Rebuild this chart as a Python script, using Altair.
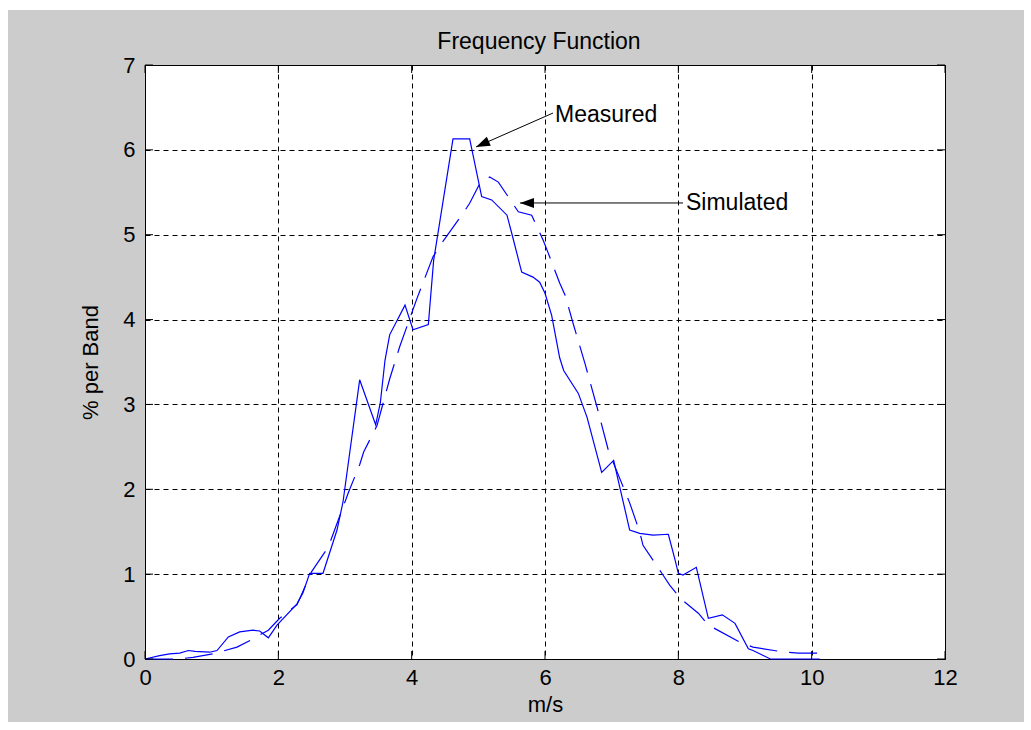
import altair as alt
import pandas as pd

# Measured frequency function (% per band vs wind speed m/s)
meas_x = [0.0, 0.22, 0.37, 0.52, 0.65, 0.75, 0.97, 1.08, 1.25, 1.42, 1.62, 1.72, 1.85,
          1.98, 2.28, 2.37, 2.47, 2.67, 2.88, 2.97, 3.22, 3.46, 3.53, 3.6, 3.67, 3.9,
          4.02, 4.25, 4.33, 4.62, 4.87, 5.05, 5.2, 5.43, 5.5, 5.65, 5.82, 5.92, 6.0,
          6.1, 6.22, 6.28, 6.5, 6.63, 6.85, 7.03, 7.1, 7.27, 7.42, 7.62, 7.85, 7.95,
          8.0, 8.07, 8.27, 8.45, 8.66, 8.85, 9.05, 9.12, 9.38, 10.12]
meas_y = [0.0, 0.04, 0.06, 0.07, 0.1, 0.09, 0.08, 0.1, 0.26, 0.32, 0.34, 0.33, 0.25,
          0.4, 0.65, 0.78, 1.01, 1.01, 1.52, 1.85, 3.29, 2.76, 3.02, 3.52, 3.82, 4.17,
          3.88, 3.94, 4.7, 6.13, 6.13, 5.45, 5.41, 5.23, 5.02, 4.56, 4.5, 4.44, 4.31,
          4.05, 3.55, 3.4, 3.13, 2.85, 2.2, 2.34, 2.1, 1.52, 1.48, 1.46, 1.47, 1.17,
          1.01, 0.99, 1.08, 0.48, 0.52, 0.42, 0.12, 0.1, 0.0, 0.0]

# Simulated frequency function
sim_x = [0.0, 0.5, 0.72, 1.08, 1.2, 1.38, 1.58, 1.85, 2.02, 2.28, 2.5, 2.75, 3.05,
         3.22, 3.28, 3.48, 3.67, 3.82, 4.08, 4.32, 4.45, 4.75, 4.87, 5.02, 5.17,
         5.3, 5.6, 5.8, 5.97, 6.05, 6.22, 6.3, 6.42, 6.6, 6.78, 6.95, 7.27, 7.42,
         7.47, 7.77, 7.87, 8.05, 8.3, 8.45, 8.92, 9.12, 9.6, 9.8, 10.1]
sim_y = [0.0, 0.0, 0.02, 0.07, 0.1, 0.14, 0.22, 0.34, 0.48, 0.64, 1.03, 1.32, 1.96,
         2.29, 2.44, 2.75, 3.3, 3.68, 4.25, 4.74, 4.9, 5.23, 5.37, 5.6, 5.68,
         5.62, 5.27, 5.23, 4.94, 4.78, 4.43, 4.29, 3.96, 3.48, 2.97, 2.46, 1.84, 1.5,
         1.34, 0.99, 0.87, 0.7, 0.54, 0.4, 0.2, 0.14, 0.08, 0.07, 0.07]

x_ticks = [0, 2, 4, 6, 8, 10, 12]
y_ticks = [0, 1, 2, 3, 4, 5, 6, 7]

title_text = "Frequency Function"
x_title = "m/s"
y_title = "% per Band"

# Annotations
ann_text = ["Measured", "Simulated"]
ann_tx = [6.15, 8.115]
ann_ty = [6.41, 5.374]
arrow_x0 = [6.12, 8.07]
arrow_y0 = [6.434, 5.374]
arrow_x1 = [4.965, 5.625]
arrow_y1 = [6.034, 5.374]
arrow_angle = [156.2, 180.0]

W, H = 800, 594
FONT = "Liberation Sans"
FS = 22
FS_BIG = 23

xs = alt.Scale(domain=[0, 12], nice=False, zero=False)
ys = alt.Scale(domain=[0, 7], nice=False, zero=False)

meas_df = pd.DataFrame({"x": meas_x, "y": meas_y})
sim_df = pd.DataFrame({"x": sim_x, "y": sim_y})
ann_df = pd.DataFrame({"text": ann_text, "tx": ann_tx, "ty": ann_ty,
                       "x0": arrow_x0, "y0": arrow_y0, "x1": arrow_x1, "y1": arrow_y1,
                       "angle": arrow_angle})
xt_df = pd.DataFrame({"t": x_ticks})
yt_df = pd.DataFrame({"t": y_ticks})

x_axis = alt.Axis(values=x_ticks, title=x_title, grid=True, gridDash=[5, 4], gridColor="black",
                  gridOpacity=1, gridWidth=1, ticks=False, domainColor="black",
                  labelFlush=False, labelPadding=8, titlePadding=6, zindex=0)
y_axis = alt.Axis(values=y_ticks, title=y_title, grid=True, gridDash=[5, 4],
                  gridColor="black", gridOpacity=1, gridWidth=1, ticks=False,
                  domainColor="black", labelFlush=False, labelPadding=10,
                  titlePadding=20, zindex=0)


def X(field):
    return alt.X(field, scale=xs, axis=x_axis)


def Y(field):
    return alt.Y(field, scale=ys, axis=y_axis)


# white frame around the grey figure area
border = alt.Chart(pd.DataFrame({"a": [0]})).mark_rect(
    fillOpacity=0, stroke="white", strokeWidth=20
).encode(x=alt.value(-147), x2=alt.value(889), y=alt.value(-65), y2=alt.value(667))

meas = alt.Chart(meas_df).mark_line(color="#0000ff", strokeWidth=1.2).encode(
    x=X("x:Q"), y=Y("y:Q"), order="x:Q")
sim = alt.Chart(sim_df).mark_line(color="#0000ff", strokeWidth=1.2, strokeDash=[28, 12]).encode(
    x=X("x:Q"), y=Y("y:Q"), order="x:Q")

xt_bot = alt.Chart(xt_df).mark_rule(color="black").encode(
    x=X("t:Q"), y=alt.value(H), y2=alt.value(H - 8))
xt_top = alt.Chart(xt_df).mark_rule(color="black").encode(
    x=X("t:Q"), y=alt.value(0), y2=alt.value(8))
yt_left = alt.Chart(yt_df).mark_rule(color="black").encode(
    y=Y("t:Q"), x=alt.value(0), x2=alt.value(8))
yt_right = alt.Chart(yt_df).mark_rule(color="black").encode(
    y=Y("t:Q"), x=alt.value(W), x2=alt.value(W - 8))

arrows = alt.Chart(ann_df).mark_rule(color="black", strokeWidth=1).encode(
    x=X("x0:Q"), y=Y("y0:Q"), x2="x1:Q", y2="y1:Q")
heads = alt.Chart(ann_df).mark_point(
    shape="M0,0L-2,-0.7L-2,0.7Z", filled=True, color="black", opacity=1, size=196
).encode(x=X("x1:Q"), y=Y("y1:Q"), angle=alt.Angle("angle:Q", scale=None))
labels = alt.Chart(ann_df).mark_text(
    align="left", baseline="middle", font=FONT, fontSize=FS_BIG, color="black"
).encode(x=X("tx:Q"), y=Y("ty:Q"), text="text:N")

title = alt.Chart(pd.DataFrame({"t": [title_text]})).mark_text(
    align="center", baseline="middle", font=FONT, fontSize=FS_BIG, color="black"
).encode(x=alt.value(394), y=alt.value(-23), text="t:N")

chart = alt.layer(
    border, meas, sim, xt_bot, xt_top, yt_left, yt_right, arrows, heads, labels, title
).properties(
    width=W, height=H,
    background="#cccccc",
    padding={"left": 145, "top": 65, "right": 86, "bottom": 71},
    autosize=alt.AutoSizeParams(type="none"),
).configure_view(
    fill="white", stroke="black", strokeWidth=1
).configure_axis(
    labelFont=FONT, labelFontSize=FS, labelColor="black",
    titleFont=FONT, titleFontSize=FS, titleFontWeight="normal", titleColor="black",
)

chart.save("out.html", embed_options={"renderer": "svg", "actions": False})
